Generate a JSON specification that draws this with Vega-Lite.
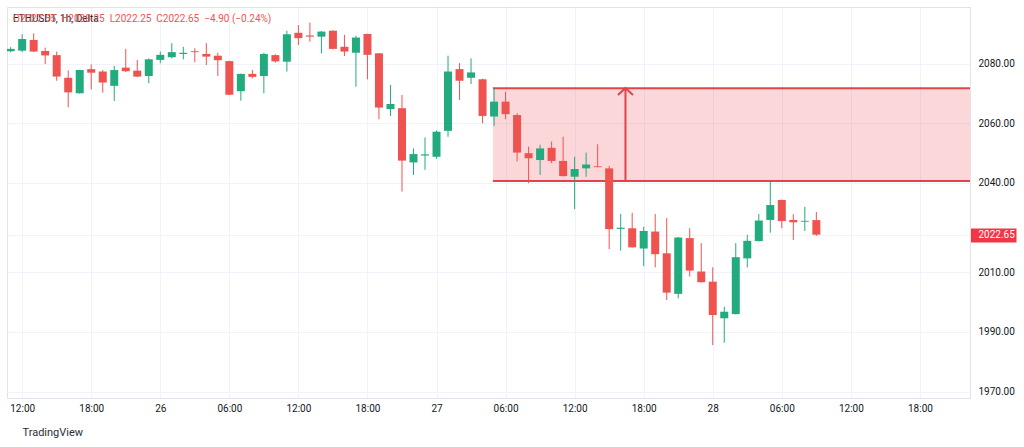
{
  "$schema": "https://vega.github.io/schema/vega-lite/v6.json",
  "width": 963,
  "height": 391,
  "autosize": "none",
  "padding": {"left": 7, "top": 7, "right": 54, "bottom": 49},
  "background": "white",
  "title": {
    "text": "ETHUSDT, 1h, Delta",
    "subtitle": "\u00a0\u00a0\u00a0\u00a0\u00a0\u00a0\u00a0\u00a0\u00a0\u00a0\u00a0\u00a0\u00a0\u00a0\u00a0\u00a0\u00a0\u00a0\u00a0\u00a0\u00a0\u00a0\u00a0\u00a0\u00a0\u00a0\u00a0\u00a0\u00a0\u00a0\u00a0\u00a0\u00a0\u00a0\u00a0\u00a0\u00a0O2027.55\u00a0\u00a0H2030.25\u00a0\u00a0L2022.25\u00a0\u00a0C2022.65\u00a0\u00a0−4.90 (−0.24%)",
    "anchor": "start",
    "frame": "group",
    "orient": "top",
    "baseline": "alphabetic",
    "offset": -25,
    "dx": 6,
    "font": "Roboto",
    "fontSize": 10,
    "fontWeight": "normal",
    "color": "#131722",
    "subtitleFont": "Roboto",
    "subtitleFontSize": 10,
    "subtitleColor": "#ef5350",
    "subtitlePadding": -10
  },
  "datasets": {
    "candles": [
      {"t": "2023-01-25T11:00:00Z", "o": 2084.2, "h": 2085.6, "l": 2083.8, "c": 2085.0},
      {"t": "2023-01-25T12:00:00Z", "o": 2084.4, "h": 2089.9, "l": 2083.9, "c": 2088.3},
      {"t": "2023-01-25T13:00:00Z", "o": 2088.0, "h": 2090.2, "l": 2083.9, "c": 2084.1},
      {"t": "2023-01-25T14:00:00Z", "o": 2084.3, "h": 2085.4, "l": 2079.9, "c": 2082.8},
      {"t": "2023-01-25T15:00:00Z", "o": 2082.9, "h": 2084.1, "l": 2074.3, "c": 2075.7},
      {"t": "2023-01-25T16:00:00Z", "o": 2075.3, "h": 2077.8, "l": 2065.4, "c": 2070.4},
      {"t": "2023-01-25T17:00:00Z", "o": 2070.1, "h": 2078.0, "l": 2070.0, "c": 2077.9},
      {"t": "2023-01-25T18:00:00Z", "o": 2078.2, "h": 2079.8, "l": 2071.4, "c": 2077.0},
      {"t": "2023-01-25T19:00:00Z", "o": 2077.4, "h": 2077.9, "l": 2070.3, "c": 2073.7},
      {"t": "2023-01-25T20:00:00Z", "o": 2072.6, "h": 2079.3, "l": 2067.5, "c": 2077.9},
      {"t": "2023-01-25T21:00:00Z", "o": 2078.7, "h": 2085.0, "l": 2077.2, "c": 2077.5},
      {"t": "2023-01-25T22:00:00Z", "o": 2077.7, "h": 2081.3, "l": 2075.5, "c": 2075.7},
      {"t": "2023-01-25T23:00:00Z", "o": 2075.9, "h": 2081.8, "l": 2073.5, "c": 2081.5},
      {"t": "2023-01-26T00:00:00Z", "o": 2081.3, "h": 2084.1, "l": 2080.2, "c": 2083.0},
      {"t": "2023-01-26T01:00:00Z", "o": 2082.2, "h": 2086.9, "l": 2081.8, "c": 2083.9},
      {"t": "2023-01-26T02:00:00Z", "o": 2083.3, "h": 2085.7, "l": 2081.5, "c": 2083.7},
      {"t": "2023-01-26T03:00:00Z", "o": 2084.2, "h": 2085.2, "l": 2080.5, "c": 2083.9},
      {"t": "2023-01-26T04:00:00Z", "o": 2083.3, "h": 2086.9, "l": 2079.6, "c": 2082.4},
      {"t": "2023-01-26T05:00:00Z", "o": 2082.7, "h": 2083.7, "l": 2075.9, "c": 2081.2},
      {"t": "2023-01-26T06:00:00Z", "o": 2080.9, "h": 2081.0, "l": 2069.5, "c": 2069.6},
      {"t": "2023-01-26T07:00:00Z", "o": 2070.8, "h": 2076.7, "l": 2067.6, "c": 2076.6},
      {"t": "2023-01-26T08:00:00Z", "o": 2076.6, "h": 2077.9, "l": 2075.1, "c": 2075.6},
      {"t": "2023-01-26T09:00:00Z", "o": 2075.9, "h": 2083.7, "l": 2070.1, "c": 2083.3},
      {"t": "2023-01-26T10:00:00Z", "o": 2082.9, "h": 2083.2, "l": 2080.4, "c": 2080.8},
      {"t": "2023-01-26T11:00:00Z", "o": 2080.7, "h": 2091.1, "l": 2077.4, "c": 2089.9},
      {"t": "2023-01-26T12:00:00Z", "o": 2090.4, "h": 2093.0, "l": 2086.3, "c": 2088.6},
      {"t": "2023-01-26T13:00:00Z", "o": 2089.5, "h": 2093.8, "l": 2087.4, "c": 2089.1},
      {"t": "2023-01-26T14:00:00Z", "o": 2089.1, "h": 2091.0, "l": 2083.5, "c": 2090.8},
      {"t": "2023-01-26T15:00:00Z", "o": 2091.1, "h": 2091.2, "l": 2084.8, "c": 2085.0},
      {"t": "2023-01-26T16:00:00Z", "o": 2085.7, "h": 2089.7, "l": 2082.6, "c": 2084.1},
      {"t": "2023-01-26T17:00:00Z", "o": 2083.7, "h": 2089.4, "l": 2072.3, "c": 2088.8},
      {"t": "2023-01-26T18:00:00Z", "o": 2090.0, "h": 2090.1, "l": 2074.8, "c": 2083.0},
      {"t": "2023-01-26T19:00:00Z", "o": 2083.5, "h": 2083.6, "l": 2061.4, "c": 2065.3},
      {"t": "2023-01-26T20:00:00Z", "o": 2064.8, "h": 2072.9, "l": 2062.5, "c": 2066.5},
      {"t": "2023-01-26T21:00:00Z", "o": 2065.1, "h": 2069.5, "l": 2037.1, "c": 2047.5},
      {"t": "2023-01-26T22:00:00Z", "o": 2046.9, "h": 2051.6, "l": 2042.7, "c": 2049.7},
      {"t": "2023-01-26T23:00:00Z", "o": 2049.2, "h": 2055.3, "l": 2044.4, "c": 2049.6},
      {"t": "2023-01-27T00:00:00Z", "o": 2048.8, "h": 2057.6, "l": 2048.1, "c": 2057.2},
      {"t": "2023-01-27T01:00:00Z", "o": 2057.5, "h": 2082.7, "l": 2055.5, "c": 2077.4},
      {"t": "2023-01-27T02:00:00Z", "o": 2078.2, "h": 2080.2, "l": 2067.9, "c": 2074.3},
      {"t": "2023-01-27T03:00:00Z", "o": 2075.3, "h": 2081.8, "l": 2073.2, "c": 2077.1},
      {"t": "2023-01-27T04:00:00Z", "o": 2074.8, "h": 2075.0, "l": 2060.0, "c": 2062.5},
      {"t": "2023-01-27T05:00:00Z", "o": 2062.3, "h": 2071.8, "l": 2059.1, "c": 2067.3},
      {"t": "2023-01-27T06:00:00Z", "o": 2067.3, "h": 2070.6, "l": 2061.4, "c": 2063.1},
      {"t": "2023-01-27T07:00:00Z", "o": 2062.8, "h": 2063.4, "l": 2047.2, "c": 2050.2},
      {"t": "2023-01-27T08:00:00Z", "o": 2050.0, "h": 2052.2, "l": 2039.9, "c": 2048.3},
      {"t": "2023-01-27T09:00:00Z", "o": 2047.7, "h": 2052.8, "l": 2042.7, "c": 2051.6},
      {"t": "2023-01-27T10:00:00Z", "o": 2051.8, "h": 2053.9, "l": 2046.6, "c": 2047.4},
      {"t": "2023-01-27T11:00:00Z", "o": 2047.4, "h": 2055.5, "l": 2042.2, "c": 2042.3},
      {"t": "2023-01-27T12:00:00Z", "o": 2042.1, "h": 2048.8, "l": 2031.2, "c": 2044.7},
      {"t": "2023-01-27T13:00:00Z", "o": 2044.9, "h": 2050.2, "l": 2042.1, "c": 2046.2},
      {"t": "2023-01-27T14:00:00Z", "o": 2045.6, "h": 2053.0, "l": 2045.3, "c": 2045.3},
      {"t": "2023-01-27T15:00:00Z", "o": 2044.9, "h": 2045.7, "l": 2017.8, "c": 2024.5},
      {"t": "2023-01-27T16:00:00Z", "o": 2024.6, "h": 2029.6, "l": 2017.3, "c": 2025.0},
      {"t": "2023-01-27T17:00:00Z", "o": 2024.8, "h": 2030.0, "l": 2018.3, "c": 2018.4},
      {"t": "2023-01-27T18:00:00Z", "o": 2018.0, "h": 2025.3, "l": 2012.1, "c": 2023.9},
      {"t": "2023-01-27T19:00:00Z", "o": 2023.7, "h": 2029.6, "l": 2011.7, "c": 2016.1},
      {"t": "2023-01-27T20:00:00Z", "o": 2016.4, "h": 2028.2, "l": 2000.7, "c": 2003.2},
      {"t": "2023-01-27T21:00:00Z", "o": 2002.8, "h": 2021.9, "l": 2001.3, "c": 2021.7},
      {"t": "2023-01-27T22:00:00Z", "o": 2021.5, "h": 2024.8, "l": 2008.6, "c": 2010.6},
      {"t": "2023-01-27T23:00:00Z", "o": 2010.3, "h": 2019.8, "l": 2006.6, "c": 2006.7},
      {"t": "2023-01-28T00:00:00Z", "o": 2006.9, "h": 2011.7, "l": 1985.6, "c": 1995.7},
      {"t": "2023-01-28T01:00:00Z", "o": 1994.6, "h": 1998.5, "l": 1986.4, "c": 1996.8},
      {"t": "2023-01-28T02:00:00Z", "o": 1996.0, "h": 2019.8, "l": 1995.9, "c": 2015.1},
      {"t": "2023-01-28T03:00:00Z", "o": 2014.7, "h": 2022.6, "l": 2011.7, "c": 2020.6},
      {"t": "2023-01-28T04:00:00Z", "o": 2020.5, "h": 2029.6, "l": 2020.4, "c": 2027.4},
      {"t": "2023-01-28T05:00:00Z", "o": 2027.6, "h": 2040.4, "l": 2023.3, "c": 2032.6},
      {"t": "2023-01-28T06:00:00Z", "o": 2034.3, "h": 2034.4, "l": 2024.8, "c": 2027.2},
      {"t": "2023-01-28T07:00:00Z", "o": 2027.6, "h": 2029.5, "l": 2020.9, "c": 2026.8},
      {"t": "2023-01-28T08:00:00Z", "o": 2027.0, "h": 2032.0, "l": 2023.9, "c": 2027.3},
      {"t": "2023-01-28T09:00:00Z", "o": 2027.55, "h": 2030.25, "l": 2022.25, "c": 2022.65}
    ],
    "zone": [
      {"t0": "2023-01-27T04:54:00Z", "t1": "2023-01-29T06:00:00Z", "ta": "2023-01-27T16:25:00Z", "lo": 2040.7, "hi": 2071.8}
    ]
  },
  "layer": [
    {
      "data": {"name": "zone"},
      "mark": {"type": "rect", "fill": "#f23645", "fillOpacity": 0.2, "clip": true},
      "encoding": {
        "x": {"field": "t0", "type": "temporal", "scale": {"type": "utc", "domain": [{"year": 2023, "month": 1, "date": 25, "hours": 11, "minutes": 7, "utc": true}, {"year": 2023, "month": 1, "date": 28, "hours": 21, "minutes": 55, "utc": true}]}},
        "x2": {"field": "t1"},
        "y": {"field": "lo", "type": "quantitative", "scale": {"domain": [1967.85, 2099.05], "nice": false, "zero": false}},
        "y2": {"field": "hi"}
      }
    },
    {
      "data": {"name": "zone"},
      "mark": {"type": "rule", "color": "#e0444b", "strokeWidth": 2, "clip": true},
      "encoding": {
        "x": {"field": "t0", "type": "temporal"},
        "x2": {"field": "t1"},
        "y": {"field": "hi", "type": "quantitative"}
      }
    },
    {
      "data": {"name": "zone"},
      "mark": {"type": "rule", "color": "#e0444b", "strokeWidth": 2, "clip": true},
      "encoding": {
        "x": {"field": "t0", "type": "temporal"},
        "x2": {"field": "t1"},
        "y": {"field": "lo", "type": "quantitative"}
      }
    },
    {
      "data": {"name": "zone"},
      "mark": {"type": "rule", "color": "#e0444b", "strokeWidth": 2},
      "encoding": {
        "x": {"field": "ta", "type": "temporal"},
        "y": {"field": "lo", "type": "quantitative"},
        "y2": {"field": "hi"}
      }
    },
    {
      "data": {"name": "zone"},
      "mark": {"type": "point", "shape": "M-1,0.9L0,0L1,0.9", "filled": false, "size": 225, "stroke": "#e0444b", "strokeWidth": 2, "opacity": 1},
      "encoding": {
        "x": {"field": "ta", "type": "temporal"},
        "y": {"field": "hi", "type": "quantitative"}
      }
    },
    {
      "data": {"name": "candles"},
      "mark": {"type": "rule", "strokeWidth": 1, "clip": true},
      "encoding": {
        "x": {
          "field": "t",
          "type": "temporal",
          "axis": {
            "values": [
              {"year": 2023, "month": 1, "date": 25, "hours": 12, "utc": true},
              {"year": 2023, "month": 1, "date": 25, "hours": 18, "utc": true},
              {"year": 2023, "month": 1, "date": 26, "hours": 0, "utc": true},
              {"year": 2023, "month": 1, "date": 26, "hours": 6, "utc": true},
              {"year": 2023, "month": 1, "date": 26, "hours": 12, "utc": true},
              {"year": 2023, "month": 1, "date": 26, "hours": 18, "utc": true},
              {"year": 2023, "month": 1, "date": 27, "hours": 0, "utc": true},
              {"year": 2023, "month": 1, "date": 27, "hours": 6, "utc": true},
              {"year": 2023, "month": 1, "date": 27, "hours": 12, "utc": true},
              {"year": 2023, "month": 1, "date": 27, "hours": 18, "utc": true},
              {"year": 2023, "month": 1, "date": 28, "hours": 0, "utc": true},
              {"year": 2023, "month": 1, "date": 28, "hours": 6, "utc": true},
              {"year": 2023, "month": 1, "date": 28, "hours": 12, "utc": true},
              {"year": 2023, "month": 1, "date": 28, "hours": 18, "utc": true}
            ],
            "labelExpr": "utcFormat(datum.value, '%H') == '00' ? utcFormat(datum.value, '%d') : utcFormat(datum.value, '%H:%M')",
            "ticks": false,
            "labelPadding": 5,
            "labelFlush": false,
            "labelOverlap": false,
            "labelFontSize": 10,
            "labelColor": "#131722",
            "domainColor": "#e0e3eb",
            "gridColor": "#f0f3fa",
            "title": "TradingView",
            "titleAnchor": "start",
            "titleAlign": "left",
            "titleX": 15,
            "titleY": 28,
            "titleFontSize": 11,
            "titleFontWeight": "normal",
            "titleColor": "#2a2e39"
          }
        },
        "y": {
          "field": "l",
          "type": "quantitative",
          "axis": {
            "orient": "right",
            "values": [1970, 1980, 1990, 2000, 2010, 2020, 2030, 2040, 2050, 2060, 2070, 2080, 2090, 2022.65],
            "labelExpr": "datum.value == 2020 ? '' : format(datum.value, '.2f')",
            "labelColor": {"condition": {"test": "datum.value == 2022.65", "value": "white"}, "value": "#131722"},
            "labelPadding": -38,
            "labelFontSize": 10,
            "labelOverlap": false,
            "labelBound": false,
            "ticks": true,
            "tickColor": {"condition": {"test": "datum.value == 2022.65", "value": "#f23645"}, "value": "transparent"},
            "tickSize": 46,
            "tickWidth": 14,
            "gridColor": "#f0f3fa",
            "domainColor": "#e0e3eb",
            "title": null
          }
        },
        "y2": {"field": "h"},
        "color": {"condition": {"test": "datum.c >= datum.o", "value": "#22ab7e"}, "value": "#ef5350"}
      }
    },
    {
      "data": {"name": "candles"},
      "mark": {"type": "bar", "width": 8, "clip": true},
      "encoding": {
        "x": {"field": "t", "type": "temporal"},
        "y": {"field": "o", "type": "quantitative"},
        "y2": {"field": "c"},
        "color": {"condition": {"test": "datum.c >= datum.o", "value": "#22ab7e"}, "value": "#ef5350"}
      }
    }
  ],
  "config": {
    "font": "Roboto",
    "view": {"stroke": "#e0e3eb"},
    "axis": {"labelFont": "Roboto", "titleFont": "Roboto"},
    "axisY": {"labelOverlap": false}
  }
}
